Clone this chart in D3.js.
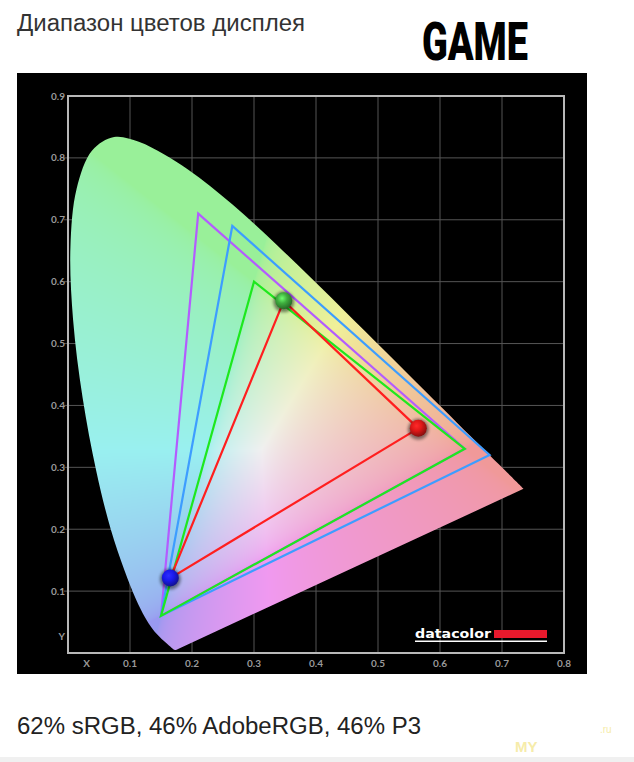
<!DOCTYPE html>
<html>
<head>
<meta charset="utf-8">
<script src="https://cdn.jsdelivr.net/npm/d3@7"></script>
<style>
  body { margin: 0; background: #fff; }
  svg { display: block; }
</style>
</head>
<body>
<svg id="chart" width="634" height="762"></svg>
<script>
// CIE 1931 spectral locus (x, y), 380..700 nm
var locusX = [0.1741,0.1740,0.1738,0.1736,0.1733,0.1730,0.1726,0.1721,0.1714,0.1703,0.1689,0.1669,0.1644,0.1611,0.1566,0.1510,0.1440,0.1355,0.1241,0.1096,0.0913,0.0687,0.0454,0.0235,0.0082,0.0039,0.0139,0.0389,0.0743,0.1142,0.1547,0.1929,0.2296,0.2658,0.3016,0.3373,0.3731,0.4087,0.4441,0.4788,0.5125,0.5448,0.5752,0.6029,0.6270,0.6482,0.6658,0.6801,0.6915,0.7006,0.7079,0.7140,0.7190,0.7230,0.7260,0.7283,0.7300,0.7311,0.7320,0.7334,0.7347];
var locusY = [0.0050,0.0050,0.0049,0.0049,0.0048,0.0048,0.0048,0.0048,0.0051,0.0058,0.0069,0.0086,0.0109,0.0138,0.0177,0.0227,0.0297,0.0399,0.0578,0.0868,0.1327,0.2007,0.2950,0.4127,0.5384,0.6548,0.7502,0.8120,0.8338,0.8262,0.8059,0.7816,0.7543,0.7243,0.6923,0.6589,0.6245,0.5896,0.5547,0.5202,0.4866,0.4544,0.4242,0.3965,0.3725,0.3514,0.3340,0.3197,0.3083,0.2993,0.2920,0.2859,0.2809,0.2770,0.2740,0.2717,0.2700,0.2689,0.2680,0.2666,0.2653];

// gamut triangles: R, G, B primaries
var gamutNames = ["AdobeRGB", "P3", "sRGB", "Display"];
var gamutColors = ["#b35cff", "#3d9dff", "#1ee81e", "#ff1f1f"];
var gamutX = [[0.64, 0.21, 0.15], [0.68, 0.265, 0.15], [0.64, 0.30, 0.15], [0.565, 0.348, 0.165]];
var gamutY = [[0.33, 0.71, 0.06], [0.32, 0.69, 0.06], [0.33, 0.60, 0.06], [0.363, 0.569, 0.121]];

// measured primaries (spheres)
var sphereColors = ["#e01818", "#3fae3f", "#1a1aee"];

var xTicks = [0.1, 0.2, 0.3, 0.4, 0.5, 0.6, 0.7, 0.8];
var yTicks = [0.1, 0.2, 0.3, 0.4, 0.5, 0.6, 0.7, 0.8, 0.9];

var svg = d3.select("#chart");

var x = d3.scaleLinear().domain([0, 0.8]).range([68, 564]);
var y = d3.scaleLinear().domain([0, 0.9]).range([653, 96]);

// titles
svg.append("text")
	.attr("x", 17).attr("y", 31)
	.attr("font-family", "Liberation Sans, Arial, sans-serif")
	.attr("font-size", "23px")
	.attr("textLength", 288)
	.attr("lengthAdjust", "spacingAndGlyphs")
	.attr("fill", "#333")
	.text("Диапазон цветов дисплея");

svg.append("text")
	.attr("x", 422).attr("y", 60)
	.attr("font-family", "Roboto, sans-serif")
	.attr("font-weight", 900)
	.attr("font-size", "53px")
	.attr("textLength", 106)
	.attr("lengthAdjust", "spacingAndGlyphs")
	.attr("fill", "#000")
	.text("GAME");

// black panel
svg.append("rect")
	.attr("x", 17).attr("y", 73)
	.attr("width", 570).attr("height", 601)
	.attr("fill", "#000");

var defs = svg.append("defs");

// grid
var g = svg.append("g");
g.selectAll("line.vx")
	.data(xTicks.slice(0, -1))
	.enter().append("line")
	.attr("x1", function (d) { return x(d); })
	.attr("x2", function (d) { return x(d); })
	.attr("y1", y(0)).attr("y2", y(0.9))
	.attr("stroke", "#555").attr("stroke-width", 1);
g.selectAll("line.hy")
	.data(yTicks.slice(0, -1))
	.enter().append("line")
	.attr("y1", function (d) { return y(d); })
	.attr("y2", function (d) { return y(d); })
	.attr("x1", x(0) - 4).attr("x2", x(0.8))
	.attr("stroke", "#555").attr("stroke-width", 1);

// tick labels
var lblFont = "Lato, DejaVu Sans, sans-serif";
function lbl(sel) {
	sel.attr("font-family", lblFont).attr("font-weight", 700)
		.attr("font-size", "10px").attr("fill", "#9a9a9a");
}
g.selectAll("text.xl")
	.data(xTicks)
	.enter().append("text")
	.attr("x", function (d) { return x(d); })
	.attr("y", 667)
	.attr("text-anchor", "middle")
	.call(lbl)
	.text(function (d) { return d.toFixed(1); });
g.selectAll("text.yl")
	.data(yTicks)
	.enter().append("text")
	.attr("x", 65)
	.attr("y", function (d) { return y(d) + 3.5; })
	.attr("text-anchor", "end")
	.call(lbl)
	.text(function (d) { return d.toFixed(1); });
g.append("text")
	.attr("x", x(0.03)).attr("y", 667)
	.attr("text-anchor", "middle")
	.call(lbl)
	.text("X");
g.append("text")
	.attr("x", 65).attr("y", y(0.026) + 3.5)
	.attr("text-anchor", "end")
	.call(lbl)
	.text("Y");

// colour fill of the horseshoe, computed per pixel from the scales
var x0 = Math.floor(x(0)), x1 = Math.ceil(x(0.8)), y0 = Math.floor(y(0.9)), y1 = Math.ceil(y(0));
var cw = x1 - x0, ch = y1 - y0;
var canvas = document.createElement("canvas");
canvas.width = cw; canvas.height = ch;
var ctx = canvas.getContext("2d");
var img = ctx.createImageData(cw, ch);
function gam(c) { return c <= 0.0031308 ? 12.92 * c : 1.055 * Math.pow(c, 1 / 2.4) - 0.055; }
for (var j = 0; j < ch; j++) {
	for (var i = 0; i < cw; i++) {
		var cx = x.invert(x0 + i + 0.5), cy = y.invert(y0 + j + 0.5);
		var k = (j * cw + i) * 4;
		if (cy < 0.002) { continue; }
		var X = cx / cy, Y = 1, Z = (1 - cx - cy) / cy;
		var r = 3.2406 * X - 1.5372 * Y - 0.4986 * Z;
		var gg = -0.9689 * X + 1.8758 * Y + 0.0415 * Z;
		var b = 0.0557 * X - 0.2040 * Y + 1.0570 * Z;
		r = Math.max(r, 0); gg = Math.max(gg, 0); b = Math.max(b, 0);
		var m = Math.max(r, gg, b) || 1;
		r = gam(r / m); gg = gam(gg / m); b = gam(b / m);
		img.data[k] = Math.round(255 * (0.6 + 0.34 * r));
		img.data[k + 1] = Math.round(255 * (0.6 + 0.34 * gg));
		img.data[k + 2] = Math.round(255 * (0.6 + 0.34 * b));
		img.data[k + 3] = 255;
	}
}
ctx.putImageData(img, 0, 0);

var locus = d3.range(locusX.length).map(function (i) { return [locusX[i], locusY[i]]; });
var line = d3.line()
	.x(function (d) { return x(d[0]); })
	.y(function (d) { return y(d[1]); })
	.curve(d3.curveCatmullRom);

defs.append("clipPath").attr("id", "locusClip")
	.append("path")
	.attr("d", line(locus) + "Z");

svg.append("image")
	.attr("x", x0).attr("y", y0)
	.attr("width", cw).attr("height", ch)
	.attr("href", canvas.toDataURL())
	.attr("clip-path", "url(#locusClip)");

// frame
svg.append("rect")
	.attr("x", x(0)).attr("y", y(0.9))
	.attr("width", x(0.8) - x(0)).attr("height", y(0) - y(0.9))
	.attr("fill", "none")
	.attr("stroke", "#b8b8b8").attr("stroke-width", 2);

// triangles
var tri = d3.line()
	.x(function (d) { return x(d[0]); })
	.y(function (d) { return y(d[1]); });
svg.selectAll("path.gamut")
	.data(gamutNames)
	.enter().append("path")
	.attr("class", "gamut")
	.attr("d", function (d, i) {
		return tri(gamutX[i].map(function (v, k) { return [v, gamutY[i][k]]; })) + "Z";
	})
	.attr("fill", "none")
	.attr("stroke", function (d, i) { return gamutColors[i]; })
	.attr("stroke-width", 2.2)
	.attr("stroke-linejoin", "miter");

// spheres at measured primaries
defs.append("filter").attr("id", "soft")
	.attr("x", "-50%").attr("y", "-50%").attr("width", "200%").attr("height", "200%")
	.append("feGaussianBlur").attr("stdDeviation", 1.8);
sphereColors.forEach(function (c, i) {
	var grad = defs.append("radialGradient")
		.attr("id", "sph" + i)
		.attr("cx", "40%").attr("cy", "35%").attr("r", "65%");
	grad.append("stop").attr("offset", "0%").attr("stop-color", d3.color(c).brighter(1.6));
	grad.append("stop").attr("offset", "45%").attr("stop-color", c);
	grad.append("stop").attr("offset", "100%").attr("stop-color", d3.color(c).darker(1.4));
});
var sph = svg.selectAll("g.sphere")
	.data(sphereColors)
	.enter().append("g")
	.attr("transform", function (d, i) {
		return "translate(" + x(gamutX[3][i]) + "," + y(gamutY[3][i]) + ")";
	});
sph.append("circle")
	.attr("r", 10.5).attr("cy", 1)
	.attr("fill", "#000").attr("opacity", 0.45)
	.attr("filter", "url(#soft)");
sph.append("circle")
	.attr("r", 8.5)
	.attr("fill", function (d, i) { return "url(#sph" + i + ")"; });

// datacolor logo
svg.append("text")
	.attr("x", 415).attr("y", 638)
	.attr("font-family", "DejaVu Sans, sans-serif")
	.attr("font-weight", 700)
	.attr("font-size", "13px")
	.attr("textLength", 76)
	.attr("lengthAdjust", "spacingAndGlyphs")
	.attr("fill", "#fff")
	.text("datacolor");
svg.append("rect")
	.attr("x", 494).attr("y", 630).attr("width", 53).attr("height", 8)
	.attr("fill", "#e8192c");
svg.append("rect")
	.attr("x", 415).attr("y", 640.5).attr("width", 132).attr("height", 1.5)
	.attr("fill", "#fff");

// bottom caption
svg.append("text")
	.attr("x", 17).attr("y", 734)
	.attr("font-family", "Liberation Sans, Arial, sans-serif")
	.attr("font-size", "23px")
	.attr("textLength", 404)
	.attr("lengthAdjust", "spacingAndGlyphs")
	.attr("fill", "#222")
	.text("62% sRGB, 46% AdobeRGB, 46% P3");

// watermark
svg.append("text")
	.attr("x", 515).attr("y", 752)
	.attr("font-family", "Liberation Sans, Arial, sans-serif")
	.attr("font-weight", 700).attr("font-size", "15px")
	.attr("fill", "#f6ecaa")
	.text("MY");
svg.append("text")
	.attr("x", 600).attr("y", 733)
	.attr("font-family", "Liberation Sans, Arial, sans-serif")
	.attr("font-size", "10px")
	.attr("fill", "#f6ecaa")
	.text(".ru");

svg.append("rect")
	.attr("x", 0).attr("y", 757).attr("width", 634).attr("height", 5)
	.attr("fill", "#f0f0f0");
</script>
</body>
</html>
